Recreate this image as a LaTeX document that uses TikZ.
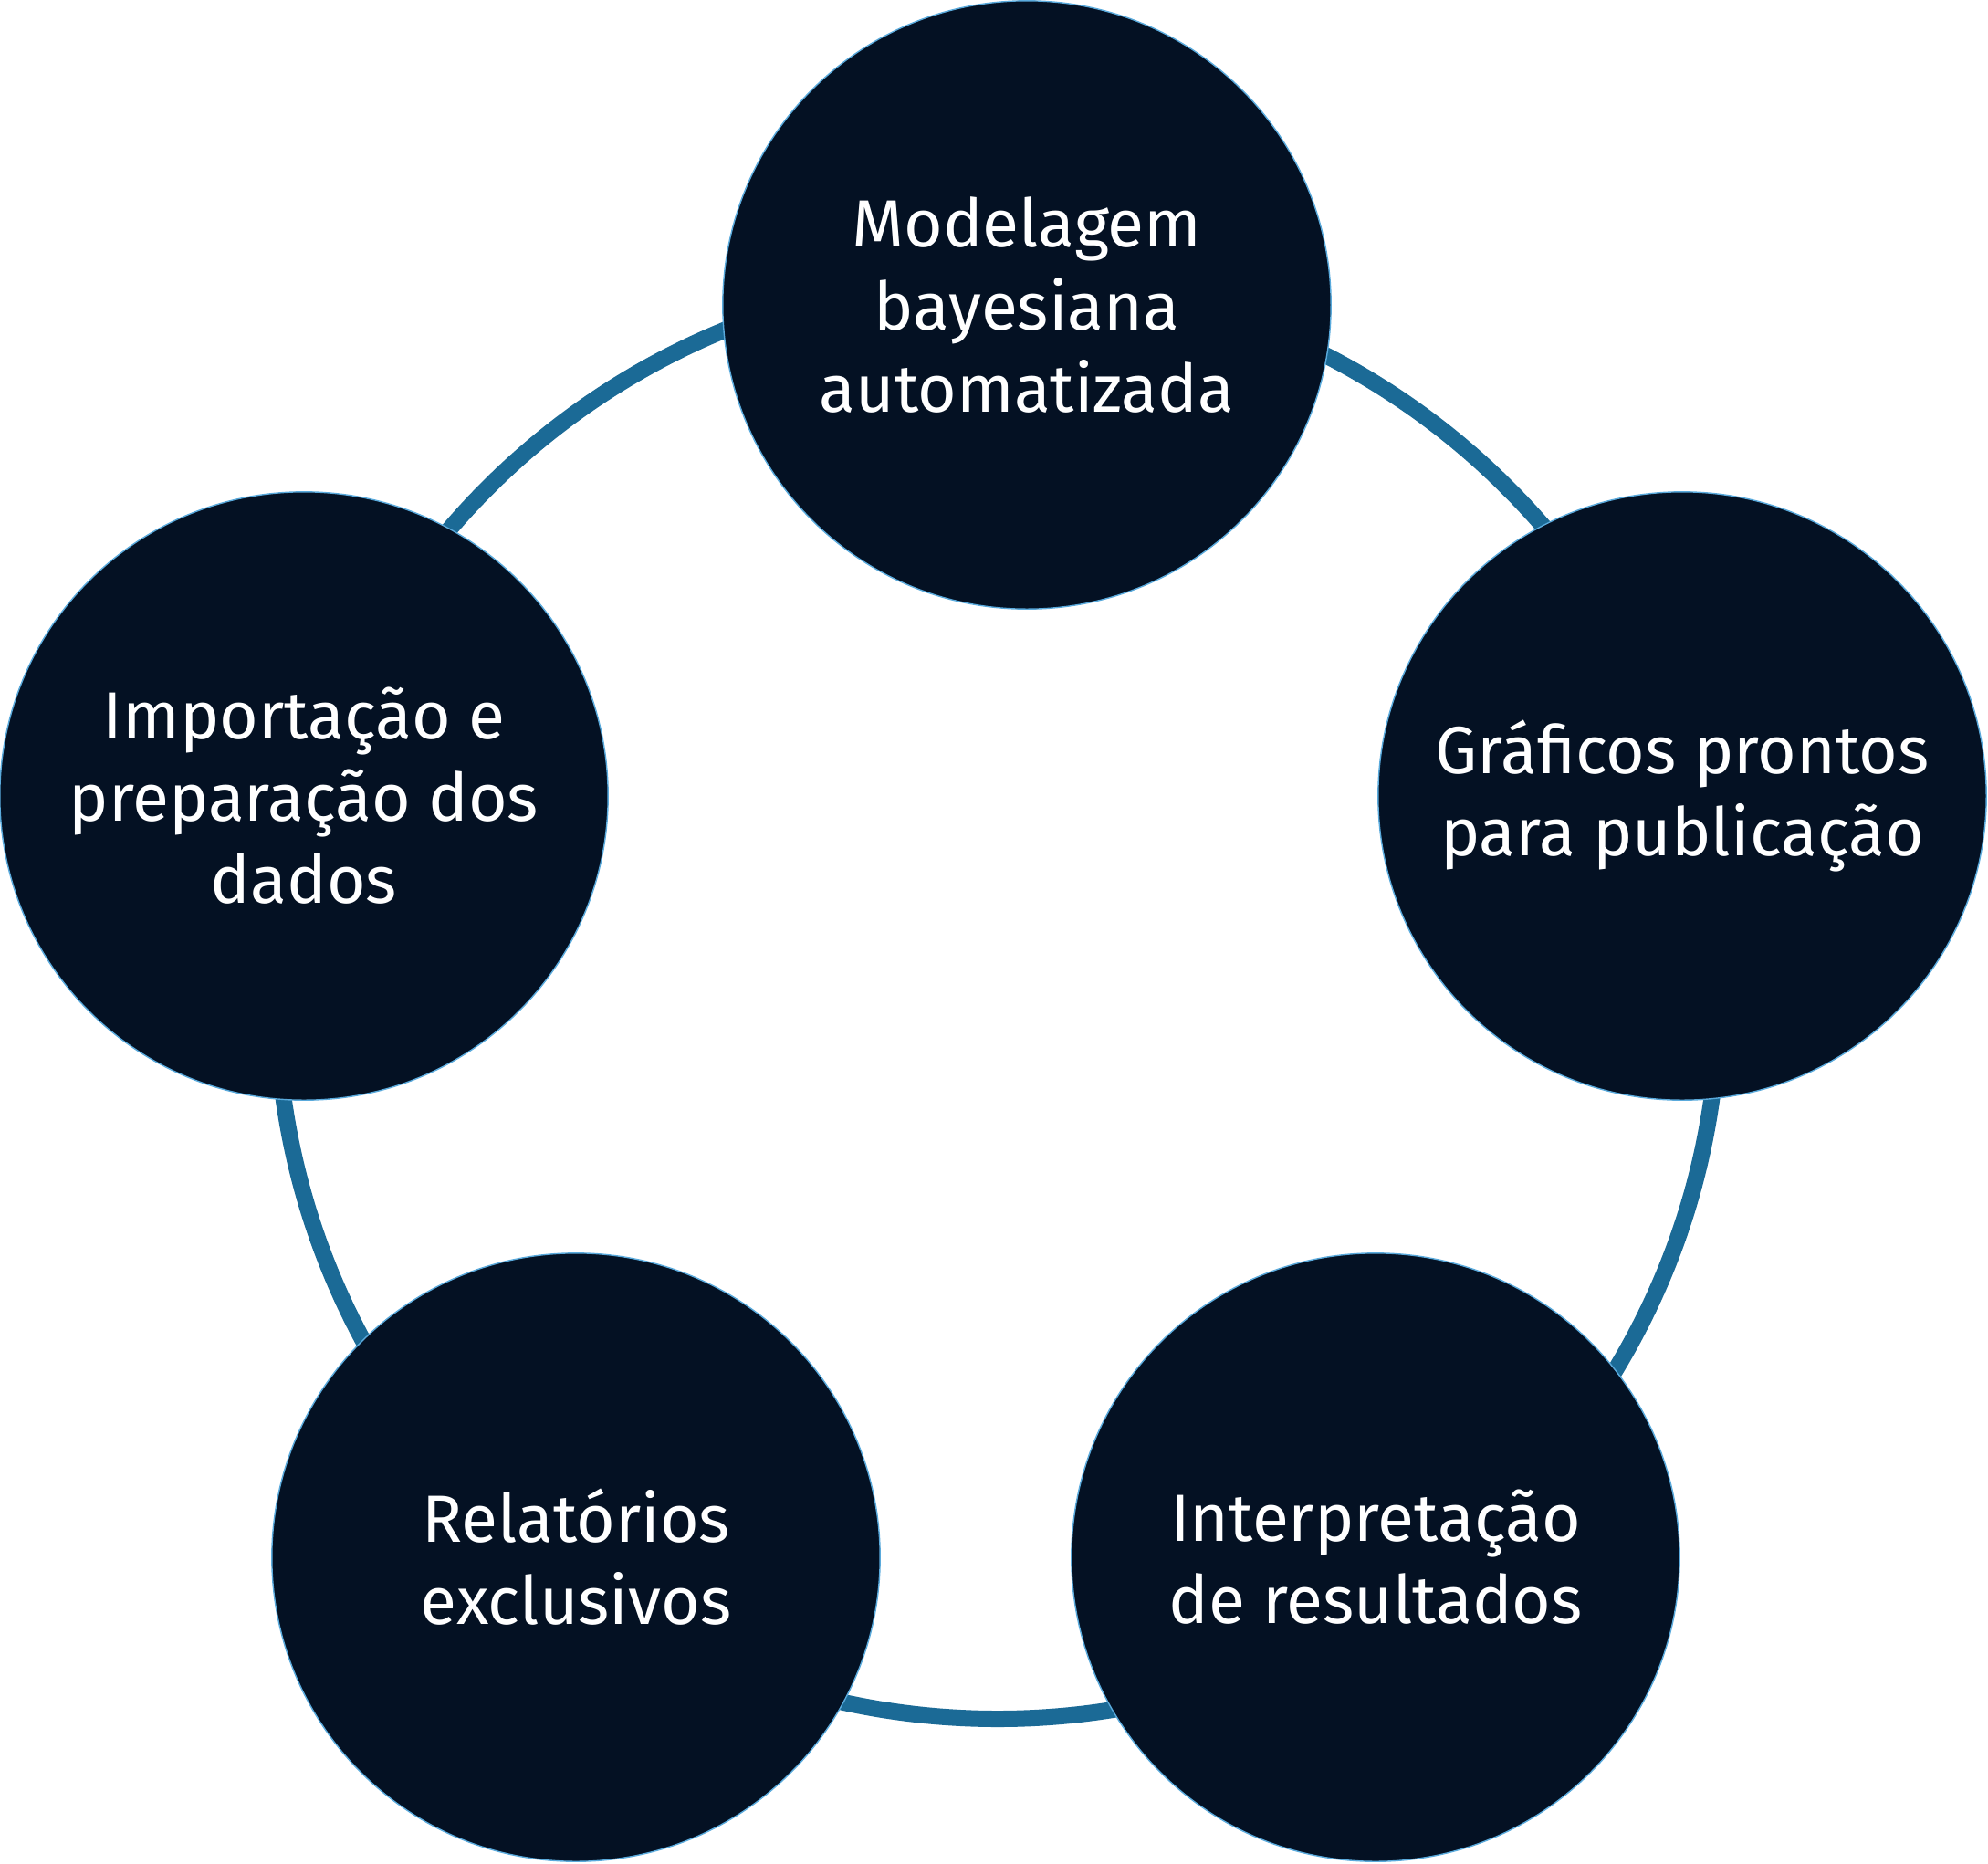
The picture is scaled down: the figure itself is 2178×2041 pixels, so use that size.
\documentclass[tikz,border=0pt]{standalone}
\usepackage{fontspec}
\setmainfont{Fira Sans}
\usepackage{xcolor}
\usetikzlibrary{positioning}
\definecolor{navy}{RGB}{4,17,35}
\definecolor{ringblue}{RGB}{27,106,150}
\definecolor{edgeblue}{RGB}{90,170,220}
\tikzset{
  stagenode/.style={circle, fill=navy, draw=edgeblue, line width=0.4pt,
    minimum size=6.66cm, inner sep=0pt, align=center, text=white,
    font=\fontsize{20.8}{25.6}\selectfont},
  ringline/.style={draw=ringblue, line width=0.18cm}
}

\begin{document}
\begin{tikzpicture}[x=0.01cm, y=-0.01cm]
\useasboundingbox (0,0) rectangle (2178,2041);
\coordinate (ctr) at (1093,1093);
\draw[ringline] (ctr) circle (790);

\node[stagenode] (model) at (1125,334) {Modelagem\\bayesiana\\automatizada};
\node[stagenode] (graf) at (1843,872) {Gráficos prontos\\para publicação};
\node[stagenode] (interp) at (1507,1706) {Interpretação\\de resultados};
\node[stagenode] (relat) at (631,1706) {Relatórios\\exclusivos};
\node[stagenode] (import) at (333,872) {Importação e\\preparação dos\\dados};
\end{tikzpicture}
\end{document}
